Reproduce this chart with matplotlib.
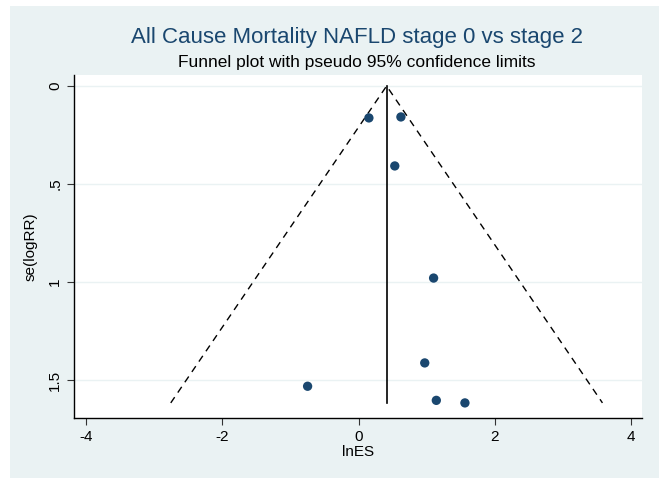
import numpy as np
import matplotlib.pyplot as plt
from matplotlib.patches import Rectangle

# study estimates
ln_es = [0.15, 0.62, 0.53, 1.10, 0.97, -0.75, 1.14, 1.56]
se_log_rr = [0.163, 0.158, 0.408, 0.98, 1.413, 1.532, 1.604, 1.617]
pooled = 0.41

x_ticks = [-4, -2, 0, 2, 4]
y_ticks = [0, 0.5, 1, 1.5]
y_tick_labels = ['0', '.5', '1', '1.5']

plt.rcParams['font.family'] = ['Liberation Sans', 'DejaVu Sans']

fig = plt.figure(figsize=(6.61, 4.78), dpi=100)
fig.patch.set_facecolor('white')
fig.patches.append(Rectangle((10 / 661, 0), 649 / 661, 472 / 478,
                             transform=fig.transFigure, facecolor='#eaf2f3',
                             edgecolor='none', zorder=-5))

ax = fig.add_axes([74 / 661, 1 - 418 / 478, 568 / 661, 343 / 478])
ax.set_facecolor('white')

se_max = max(se_log_rr)
ax.plot([pooled, pooled], [0, se_max], color='black', lw=1.2)
ax.plot([pooled - 1.96 * se_max, pooled, pooled + 1.96 * se_max],
        [se_max, 0, se_max], color='black', lw=1.0, ls=(0, (5, 4)))
ax.scatter(ln_es, se_log_rr, s=45, color='#1a476f', zorder=3, edgecolors='none')

ax.set_xlim(-4.18, 4.16)
ax.set_ylim(1.694, -0.056)
ax.set_xticks(x_ticks)
ax.set_xticklabels([str(v) for v in x_ticks], fontsize=11)
ax.set_yticks(y_ticks)
ax.set_yticklabels(y_tick_labels, fontsize=11, rotation=90, va='center')
ax.tick_params(direction='out', length=5, width=0.8, color='#333333')
ax.grid(axis='y', color='#eaf2f3', lw=1.0)
ax.set_axisbelow(True)
for s in ['top', 'right']:
    ax.spines[s].set_visible(False)
for s in ['left', 'bottom']:
    ax.spines[s].set_linewidth(1.0)

ax.set_xlabel('lnES', fontsize=11, labelpad=1)
ax.set_ylabel('se(logRR)', fontsize=11, labelpad=8)

fig.text(357 / 661, 1 - 37 / 478, 'All Cause Mortality NAFLD stage 0 vs stage 2',
         ha='center', va='center', fontsize=16, color='#1a476f')
fig.text(357 / 661, 1 - 63 / 478, 'Funnel plot with pseudo 95% confidence limits',
         ha='center', va='center', fontsize=12.5, color='black')

fig.savefig('out.png', dpi=100)
